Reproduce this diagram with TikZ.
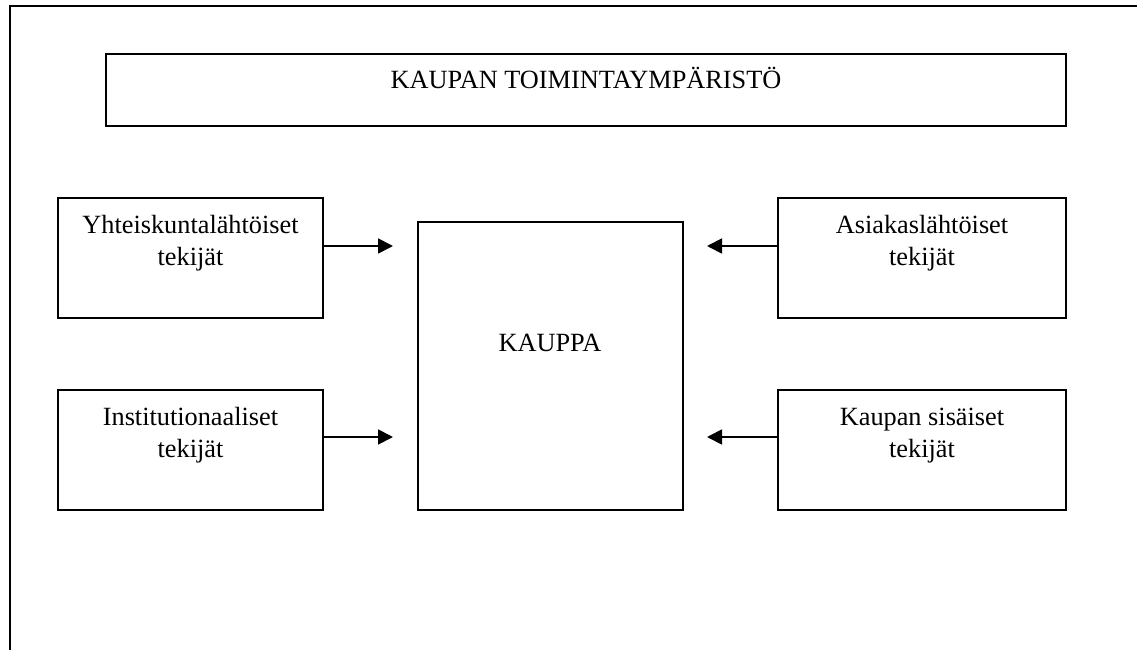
\documentclass[tikz,border=0pt]{standalone}
\usepackage{fontspec}
\setmainfont{Liberation Serif}
\usetikzlibrary{arrows.meta}
\tikzset{
  box/.style={draw, line width=1.8pt, rectangle, inner sep=0pt},
  lbl/.style={font=\fontsize{26.3}{31.8}\selectfont, align=center, inner sep=0pt, anchor=base},
  conn/.style={line width=1.8pt, -{Triangle[length=15pt,width=15pt]}, shorten >=0pt},
}
\begin{document}
\begin{tikzpicture}[x=1pt,y=-1pt]
\useasboundingbox (0,0) rectangle (1137,650);
% outer frame (cut off at right and bottom)
\coordinate (fbl) at (10,660);
\coordinate (ftl) at (10,6);
\coordinate (ftr) at (1150,6);
\draw[line width=1.8pt] (fbl) -- (ftl) -- (ftr);
% title box
\node[box, minimum width=960pt, minimum height=72pt] (title) at (586,90) {};
\node[lbl] (titletext) at (586,89) {KAUPAN TOIMINTAYMPÄRISTÖ};
% central box
\node[box, minimum width=265pt, minimum height=288pt] (kauppa) at (550.5,366) {};
\node[lbl] (kauppatext) at (550,351) {KAUPPA};
% side boxes
\node[box, minimum width=265pt, minimum height=120pt] (yht) at (190.5,258) {};
\node[lbl] (yhttext) at (190.5,265) {Yhteiskuntalähtöiset\\tekijät};
\node[box, minimum width=265pt, minimum height=120pt] (ins) at (190.5,450) {};
\node[lbl] (instext) at (190.5,457) {Institutionaaliset\\tekijät};
\node[box, minimum width=288pt, minimum height=120pt] (asi) at (922,258) {};
\node[lbl] (asitext) at (922,265) {Asiakaslähtöiset\\tekijät};
\node[box, minimum width=288pt, minimum height=120pt] (kau) at (922,450) {};
\node[lbl] (kautext) at (922,457) {Kaupan sisäiset\\tekijät};
% arrow end points
\coordinate (e1) at (393,246);
\coordinate (e2) at (393,437);
\coordinate (e3) at (707,246);
\coordinate (e4) at (707,437);
\draw[conn] (yht.east |- e1) -- (e1);
\draw[conn] (ins.east |- e2) -- (e2);
\draw[conn] (asi.west |- e3) -- (e3);
\draw[conn] (kau.west |- e4) -- (e4);
\end{tikzpicture}
\end{document}
